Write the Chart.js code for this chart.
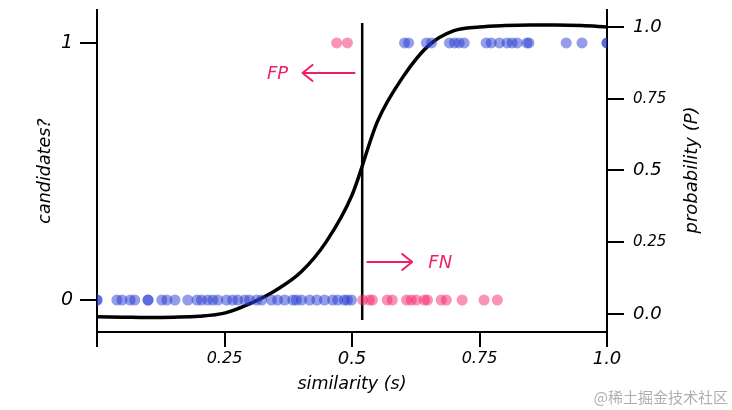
<!DOCTYPE html>
<html>
<head>
<meta charset="utf-8">
<script src="https://cdn.jsdelivr.net/npm/chart.js@4.4.1/dist/chart.umd.min.js"></script>
<style>
html,body{margin:0;padding:0;background:#fff;}
canvas{display:block;}
</style>
</head>
<body>
<canvas id="c" width="732" height="410"></canvas>
<script>
// ---- data ----
const curveS = [0, 0.05, 0.1, 0.15, 0.2, 0.25, 0.3, 0.35, 0.4, 0.45, 0.5, 0.55, 0.6, 0.65, 0.7, 0.75, 0.8, 0.85, 0.9, 0.95, 1.0];
const curveP = [-0.01, -0.011, -0.012, -0.011, -0.008, 0.003, 0.036, 0.082, 0.146, 0.253, 0.414, 0.671, 0.826, 0.935, 0.987, 1.0, 1.005, 1.007, 1.007, 1.005, 1.0];

const zeroBlueS = [0, 0, 0.039, 0.049, 0.065, 0.074, 0.1, 0.1, 0.127, 0.137, 0.153, 0.178, 0.196, 0.205, 0.217, 0.227, 0.237, 0.254, 0.266, 0.276, 0.29, 0.299, 0.313, 0.323, 0.342, 0.354, 0.368, 0.384, 0.391, 0.401, 0.417, 0.431, 0.446, 0.462, 0.472, 0.485, 0.491, 0.499];
const zeroPinkS = [0.521, 0.534, 0.54, 0.569, 0.579, 0.607, 0.616, 0.626, 0.642, 0.648, 0.675, 0.685, 0.716, 0.759, 0.785];
const oneBlueS = [0.603, 0.611, 0.646, 0.656, 0.691, 0.701, 0.71, 0.72, 0.763, 0.773, 0.789, 0.804, 0.814, 0.824, 0.843, 0.847, 0.92, 0.951, 1.0, 1.0];
const onePinkS = [0.47, 0.491];

const thresholdS = 0.52;
const thresholdP = [1.014, -0.021];

const xTicks = [0, 0.25, 0.5, 0.75, 1.0];
const xTickLabels = ['', '0.25', '0.5', '0.75', '1.0'];
const leftTicks = [0, 1];
const leftTickLabels = ['0', '1'];
const rightTicks = [0, 0.25, 0.5, 0.75, 1.0];
const rightTickLabels = ['0.0', '0.25', '0.5', '0.75', '1.0'];

const annText = ['FP', 'FN'];
const annTextS = [0.354, 0.673];
const annY = [0.883, 0.148];
const arrowFromS = [0.505, 0.53];
const arrowToS = [0.403, 0.618];

// ---- styles ----
const FONT = "'DejaVu Sans', sans-serif";
const PINK = 'rgb(240,30,100)';
const BLUE_DOT = 'rgba(40,60,210,0.5)';
const PINK_DOT = 'rgba(245,40,105,0.5)';

const pts = (arr, y) => arr.map(s => ({x: s, y: y}));
const noPad = s => { s.paddingTop = 0; s.paddingBottom = 0; s.paddingLeft = 0; s.paddingRight = 0; };

const extras = {
  id: 'extras',
  afterDraw(chart) {
    const ctx = chart.ctx;
    const xs = chart.scales.x, ys = chart.scales.y;
    ctx.save();
    for (let i = 0; i < annText.length; i++) {
      const y = ys.getPixelForValue(annY[i]);
      ctx.fillStyle = PINK;
      ctx.font = 'italic 18px ' + FONT;
      ctx.textAlign = 'center';
      ctx.textBaseline = 'middle';
      ctx.fillText(annText[i], xs.getPixelForValue(annTextS[i]), y + 1);
      const x1 = xs.getPixelForValue(arrowFromS[i]);
      const x2 = xs.getPixelForValue(arrowToS[i]);
      const dir = x2 > x1 ? 1 : -1;
      ctx.strokeStyle = PINK;
      ctx.lineWidth = 2;
      ctx.lineCap = 'round';
      ctx.lineJoin = 'round';
      ctx.beginPath();
      ctx.moveTo(x1, y);
      ctx.lineTo(x2, y);
      ctx.moveTo(x2 - dir * 10, y - 8);
      ctx.lineTo(x2, y);
      ctx.lineTo(x2 - dir * 10, y + 8);
      ctx.stroke();
    }
    // right axis title, reading bottom-to-top
    ctx.fillStyle = '#000';
    ctx.font = 'italic 18px ' + FONT;
    ctx.textAlign = 'center';
    ctx.textBaseline = 'middle';
    ctx.translate(692, 170);
    ctx.rotate(-Math.PI / 2);
    ctx.fillText('probability (P)', 0, 0);
    ctx.restore();
    // watermark
    ctx.save();
    ctx.fillStyle = 'rgb(175,175,175)';
    ctx.font = "15px 'Noto Sans CJK SC', sans-serif";
    ctx.textAlign = 'right';
    ctx.textBaseline = 'middle';
    ctx.fillText('@稀土掘金技术社区', 728, 397);
    ctx.restore();
  }
};

new Chart(document.getElementById('c'), {
  type: 'scatter',
  data: {
    datasets: [
      {data: pts(zeroBlueS, 0), yAxisID: 'y', backgroundColor: BLUE_DOT, pointRadius: 5.5, borderWidth: 0},
      {data: pts(zeroPinkS, 0), yAxisID: 'y', backgroundColor: PINK_DOT, pointRadius: 5.5, borderWidth: 0},
      {data: pts(oneBlueS, 1), yAxisID: 'y', backgroundColor: BLUE_DOT, pointRadius: 5.5, borderWidth: 0},
      {data: pts(onePinkS, 1), yAxisID: 'y', backgroundColor: PINK_DOT, pointRadius: 5.5, borderWidth: 0},
      {data: curveS.map((s, i) => ({x: s, y: curveP[i]})), yAxisID: 'y2', showLine: true, borderColor: '#000', borderWidth: 3.5, pointRadius: 0, cubicInterpolationMode: 'monotone', borderCapStyle: 'round', borderJoinStyle: 'round'},
      {data: thresholdP.map(p => ({x: thresholdS, y: p})), yAxisID: 'y2', showLine: true, borderColor: '#000', borderWidth: 2.5, pointRadius: 0}
    ]
  },
  options: {
    responsive: false,
    animation: false,
    devicePixelRatio: 1,
    layout: {padding: {top: 10, left: 0, right: 0, bottom: 0}},
    plugins: {legend: {display: false}, tooltip: {enabled: false}},
    scales: {
      x: {
        type: 'linear', position: 'bottom', min: 0, max: 1,
        border: {display: true, color: '#000', width: 2},
        grid: {drawOnChartArea: false, drawTicks: true, tickLength: 15, color: '#000', lineWidth: 2},
        afterBuildTicks: s => { s.ticks = xTicks.map(v => ({value: v})); },
        afterFit: s => { s.height = 78; noPad(s); },
        ticks: {
          autoSkip: false, maxRotation: 0, color: '#000', padding: 2,
          callback: (v) => xTickLabels[xTicks.indexOf(v)],
          font: (c) => ({family: FONT, style: 'italic', size: (c.index % 2 === 0) ? 18 : 16})
        },
        title: {display: true, text: 'similarity (s)', color: '#000', font: {family: FONT, style: 'italic', size: 17.5}, padding: {top: 0, bottom: 15}}
      },
      y: {
        type: 'linear', position: 'left', min: -0.1245, max: 1.128,
        border: {display: true, color: '#000', width: 2},
        grid: {drawOnChartArea: false, drawTicks: true, tickLength: 17, color: '#000', lineWidth: 2},
        afterBuildTicks: s => { s.ticks = leftTicks.map(v => ({value: v})); },
        afterFit: s => { s.width = 97; noPad(s); },
        ticks: {
          autoSkip: false, color: '#000', padding: 7,
          callback: (v) => leftTickLabels[leftTicks.indexOf(v)],
          font: {family: FONT, style: 'italic', size: 19}
        },
        title: {display: true, text: 'candidates?', color: '#000', font: {family: FONT, style: 'italic', size: 17.5}, padding: {top: 35, bottom: 0}}
      },
      y2: {
        type: 'linear', position: 'right', min: -0.0627, max: 1.059,
        border: {display: true, color: '#000', width: 2},
        grid: {drawOnChartArea: false, drawTicks: true, tickLength: 17, color: '#000', lineWidth: 2},
        afterBuildTicks: s => { s.ticks = rightTicks.map(v => ({value: v})); },
        afterFit: s => { s.width = 125; noPad(s); },
        ticks: {
          autoSkip: false, color: '#000', padding: 9,
          callback: (v) => rightTickLabels[rightTicks.indexOf(v)],
          font: (c) => ({family: FONT, style: 'italic', size: (c.index % 2 === 0) ? 18 : 15})
        }
      }
    }
  },
  plugins: [extras]
});
</script>
</body>
</html>
